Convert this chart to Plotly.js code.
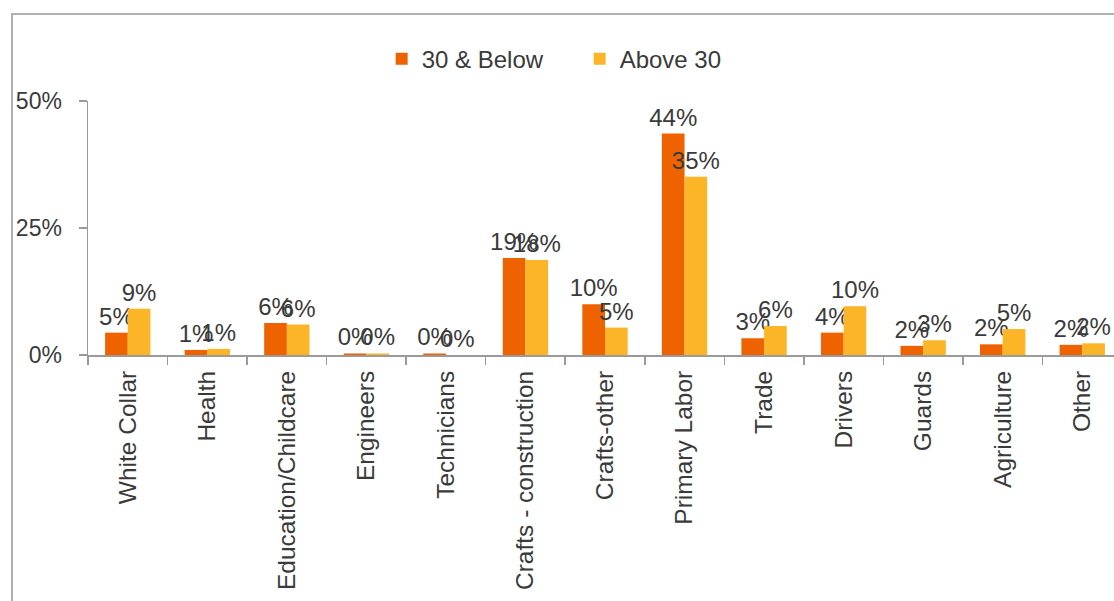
<!DOCTYPE html>
<html>
<head>
<meta charset="utf-8">
<script src="https://cdn.plot.ly/plotly-3.0.1.min.js"></script>
<style>
  html, body { margin: 0; padding: 0; background: #fff; overflow: hidden; }
  #chart { width: 1140px; height: 601px; }
</style>
</head>
<body>
<div id="chart"></div>
<script>
const categories = ["White Collar", "Health", "Education/Childcare", "Engineers", "Technicians",
  "Crafts - construction", "Crafts-other", "Primary Labor", "Trade", "Drivers", "Guards",
  "Agriculture", "Other"];
const below30 = [4.4, 1.0, 6.3, 0.3, 0.3, 19.1, 10.0, 43.6, 3.3, 4.4, 1.8, 2.1, 2.0];
const above30 = [9.1, 1.2, 6.0, 0.3, 0.0, 18.7, 5.4, 35.1, 5.7, 9.6, 2.9, 5.1, 2.3];
const below30Labels = ["5%", "1%", "6%", "0%", "0%", "19%", "10%", "44%", "3%", "4%", "2%", "2%", "2%"];
const above30Labels = ["9%", "1%", "6%", "0%", "0%", "18%", "5%", "35%", "6%", "10%", "3%", "5%", "2%"];
const seriesNames = ["30 & Below", "Above 30"];
const yTicks = [0, 25, 50];
const yTickLabels = ["0%", "25%", "50%"];

const FONT = "Liberation Sans, Arial, Helvetica, sans-serif";
const textColor = "#3a3a3a";

function barTrace(name, values, labels, color) {
  return {
    type: "bar",
    name: name,
    x: categories,
    y: values,
    marker: { color: color, line: { width: 0 } },
    text: labels,
    texttemplate: "%{text}",
    textposition: "outside",
    constraintext: "none",
    cliponaxis: false,
    textfont: { family: FONT, size: 24, color: textColor },
    hoverinfo: "skip"
  };
}

const data = [
  barTrace(seriesNames[0], below30, below30Labels, "#EF6200"),
  barTrace(seriesNames[1], above30, above30Labels, "#FBB526")
];

const layout = {
  width: 1140,
  height: 601,
  margin: { l: 88, r: 18, t: 101, b: 246 },
  paper_bgcolor: "#fff",
  plot_bgcolor: "#fff",
  barmode: "group",
  bargap: 0.43,
  bargroupgap: 0,
  font: { family: FONT, size: 24, color: textColor },
  showlegend: true,
  legend: {
    orientation: "h",
    x: 0.284, xanchor: "left",
    y: 1.165, yanchor: "middle",
    font: { family: FONT, size: 24, color: textColor },
    itemwidth: 30,
    entrywidth: 153,
    entrywidthmode: "pixels",
    traceorder: "normal",
    tracegroupgap: 0,
    bgcolor: "rgba(0,0,0,0)"
  },
  xaxis: {
    type: "category",
    showgrid: false,
    showline: true,
    linecolor: "#9a9a9a",
    linewidth: 2,
    ticks: "outside",
    tickson: "boundaries",
    ticklen: 8,
    tickcolor: "#9a9a9a",
    tickwidth: 1.5,
    tickangle: -90,
    ticklabelstandoff: 4,
    tickfont: { family: FONT, size: 24.5, color: textColor },
    fixedrange: true
  },
  yaxis: {
    range: [0, 50],
    tickvals: yTicks,
    ticktext: yTickLabels,
    showgrid: false,
    zeroline: false,
    showline: true,
    linecolor: "#9a9a9a",
    linewidth: 1.5,
    ticks: "outside",
    ticklen: 8,
    tickcolor: "#9a9a9a",
    tickwidth: 1.5,
    ticklabelstandoff: 12,
    tickfont: { family: FONT, size: 23, color: textColor },
    fixedrange: true
  },
  shapes: [{
    type: "rect",
    xref: "paper", yref: "paper",
    x0: (12 - 88) / 1034, x1: 1.2,
    y0: -1.2, y1: (355 - 14) / 254,
    line: { color: "#b0b0b0", width: 2 },
    fillcolor: "rgba(0,0,0,0)",
    layer: "below"
  }]
};

Plotly.newPlot("chart", data, layout, { displayModeBar: false, staticPlot: true });
</script>
</body>
</html>
